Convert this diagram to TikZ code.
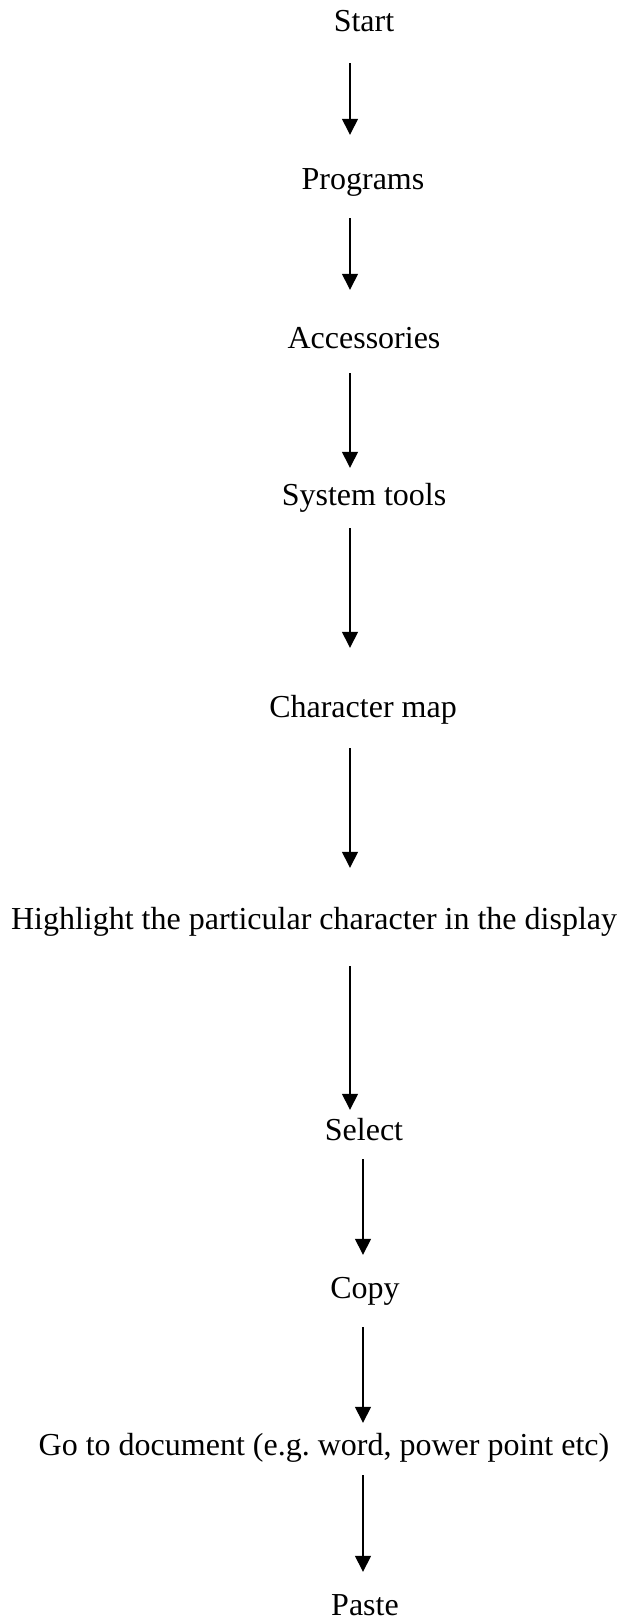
\documentclass[tikz,border=0pt]{standalone}
\usepackage{fontspec}
\setmainfont{Liberation Serif}
\usepackage{tikz}
\usetikzlibrary{arrows.meta,positioning,calc}
\frenchspacing

\begin{document}
\begin{tikzpicture}[
  x=1pt, y=1pt,
  >={Triangle[length=16pt, width=16pt]},
  line/.style={->, line width=1.4pt, draw=black},
  stage/.style={inner sep=0pt, anchor=base, text height=22pt, text depth=7pt, font=\fontsize{32}{38}\selectfont}
]
\useasboundingbox (0,0) rectangle (623,-1621);

% arrow axes
\coordinate (axisA) at (350,0);
\coordinate (axisB) at (363,0);

\node[stage] (start) at (364,-32) {Start};
\node[stage] (prog) at (363,-190) {Programs};
\node[stage] (acc) at (364,-348) {Accessories};
\node[stage] (sys) at (364,-505) {System tools};
\node[stage] (cmap) at (363,-717) {Character map};
\node[stage] (high) at (314,-929) {Highlight the particular character in the display};
\node[stage] (sel) at (364,-1140) {Select};
\node[stage] (copy) at (365,-1298) {Copy};
\node[stage] (doc) at (324,-1455) {Go to document (e.g. word, power point etc)};
\node[stage] (paste) at (365,-1615) {Paste};

\draw[line, shorten <=24pt, shorten >=33pt] (start.south -| axisA) -- (prog.north -| axisA);
\draw[line, shorten <=21pt, shorten >=36pt] (prog.south -| axisA) -- (acc.north -| axisA);
\draw[line, shorten <=18pt, shorten >=15pt] (acc.south -| axisA) -- (sys.north -| axisA);
\draw[line, shorten <=16pt, shorten >=47pt] (sys.south -| axisA) -- (cmap.north -| axisA);
\draw[line, shorten <=24pt, shorten >=39pt] (cmap.south -| axisA) -- (high.north -| axisA);
\draw[line, shorten <=30pt, shorten >=8pt] (high.south -| axisA) -- (sel.north -| axisA);
\draw[line, shorten <=12pt, shorten >=21pt] (sel.south -| axisB) -- (copy.north -| axisB);
\draw[line, shorten <=22pt, shorten >=10pt] (copy.south -| axisB) -- (doc.north -| axisB);
\draw[line, shorten <=13pt, shorten >=21pt] (doc.south -| axisB) -- (paste.north -| axisB);
\end{tikzpicture}
\end{document}
